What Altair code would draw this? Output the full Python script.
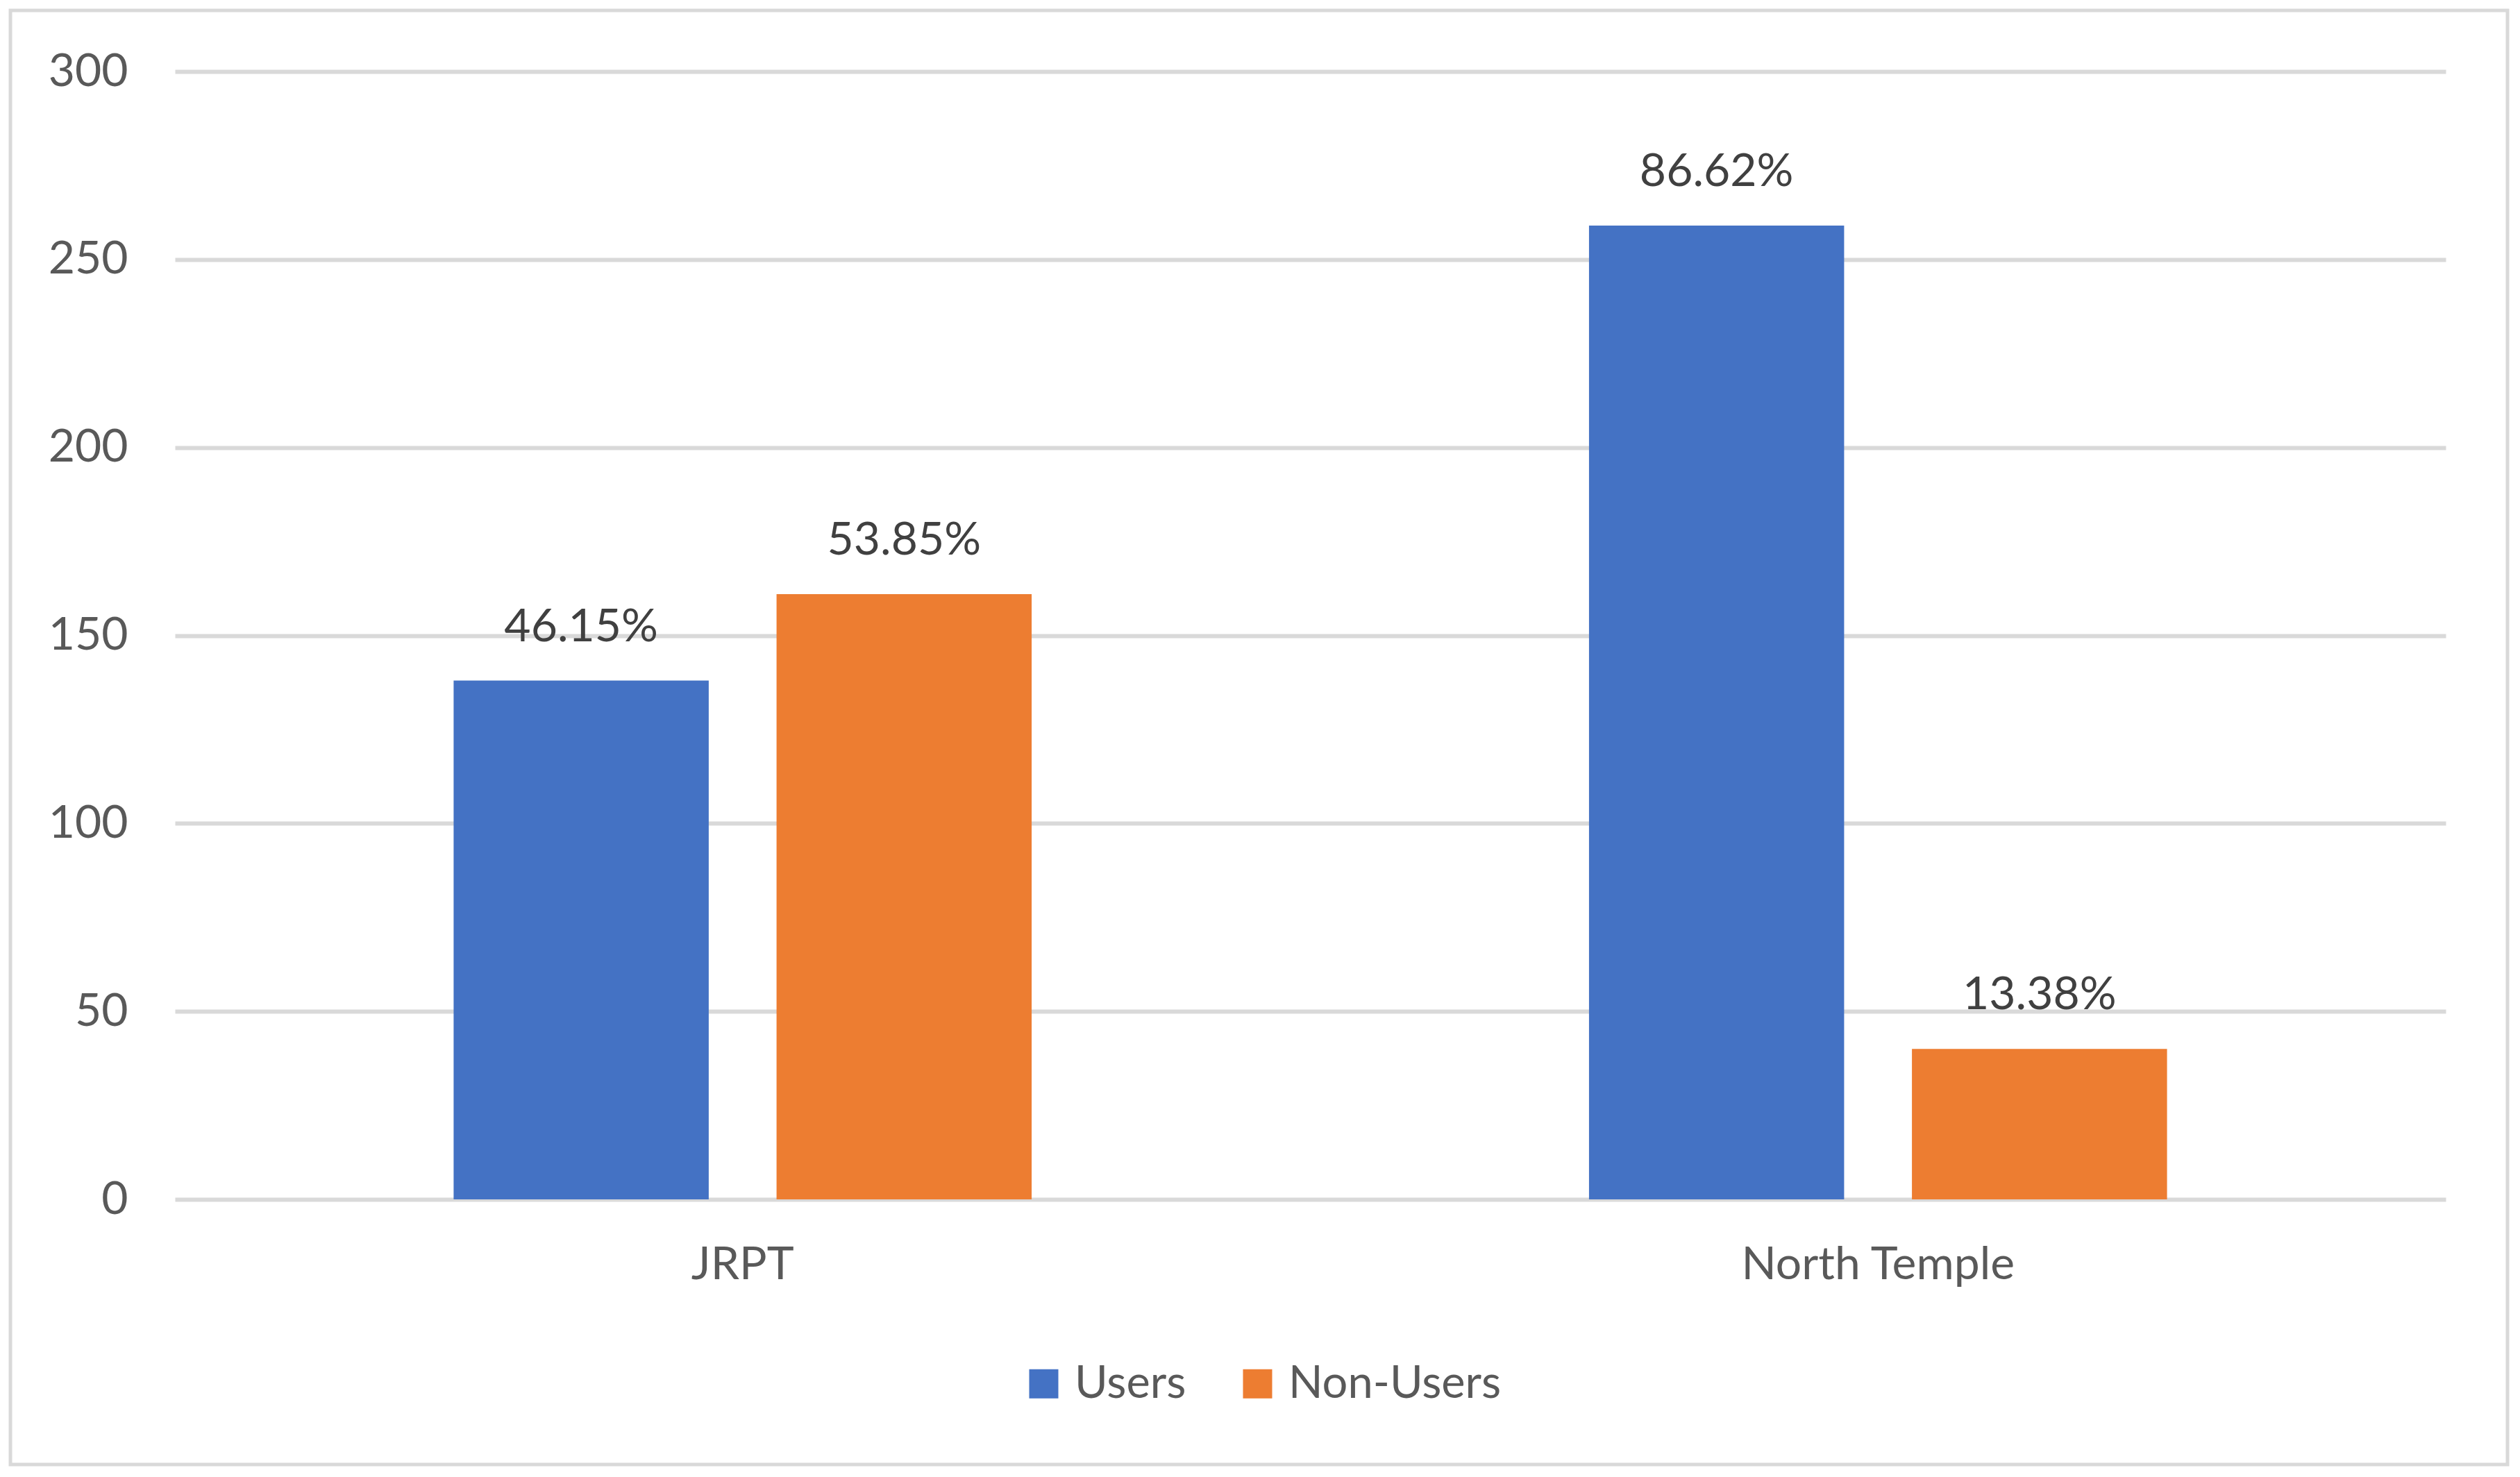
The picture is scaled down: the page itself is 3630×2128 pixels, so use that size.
import altair as alt
import pandas as pd

stations = ["JRPT", "JRPT", "North Temple", "North Temple"]
groups = ["Users", "Non-Users", "Users", "Non-Users"]
counts = [138, 161, 259, 40]
pct_labels = ["46.15%", "53.85%", "86.62%", "13.38%"]
series_order = ["Users", "Non-Users"]
series_colors = ["#4472C4", "#ED7D31"]
y_ticks = [0, 50, 100, 150, 200, 250, 300]

df = pd.DataFrame({"station": stations, "group": groups, "count": counts, "label": pct_labels})

FONT = "Lato"

base = alt.Chart(df).encode(
    x=alt.X("station:N", title=None, sort=["JRPT", "North Temple"],
            scale=alt.Scale(paddingInner=0, paddingOuter=0),
            axis=alt.Axis(labelAngle=0, ticks=False, domain=False, labelFontSize=66,
                          labelColor="#595959", labelFont=FONT, labelPadding=62,
                          labelBaseline="top", labelLimit=0)),
    xOffset=alt.XOffset("group:N", sort=series_order,
                        scale=alt.Scale(paddingInner=0.21, paddingOuter=0.863)),
)

bars = base.mark_bar().encode(
    y=alt.Y("count:Q", title=None,
            scale=alt.Scale(domain=[0, 300], nice=False),
            axis=alt.Axis(values=y_ticks, grid=True, gridColor="#D9D9D9", gridWidth=6,
                          ticks=False, domain=False, labelFontSize=66, labelColor="#595959",
                          labelFont=FONT, labelPadding=68)),
    color=alt.Color("group:N", sort=series_order,
                    scale=alt.Scale(domain=series_order, range=series_colors),
                    legend=alt.Legend(title=None, orient="none", direction="horizontal",
                                      legendX=1219, legendY=1858,
                                      symbolType="square", symbolSize=1764, symbolStrokeWidth=0,
                                      labelFontSize=65, labelColor="#595959", labelFont=FONT,
                                      labelOffset=12, columnPadding=70, padding=0,
                                      labelLimit=0)),
)

texts = base.mark_text(baseline="alphabetic", dy=-57, fontSize=66, color="#404040", font=FONT).encode(
    y=alt.Y("count:Q"),
    text="label:N",
)

border = alt.Chart(pd.DataFrame({"a": [0]})).mark_rect(
    fill="transparent", stroke="#D9D9D9", strokeWidth=5
).encode(
    x=alt.value(-237), x2=alt.value(3360), y=alt.value(-88), y2=alt.value(2007)
)

chart = alt.layer(border, bars, texts).properties(
    width=3271, height=1625,
    autosize=alt.AutoSizeParams(type="none"),
    padding={"left": 244, "top": 95, "right": 99, "bottom": 385},
    background="white",
).configure_view(stroke=None)

chart.save("out.html", embed_options={"renderer": "svg", "actions": False})
